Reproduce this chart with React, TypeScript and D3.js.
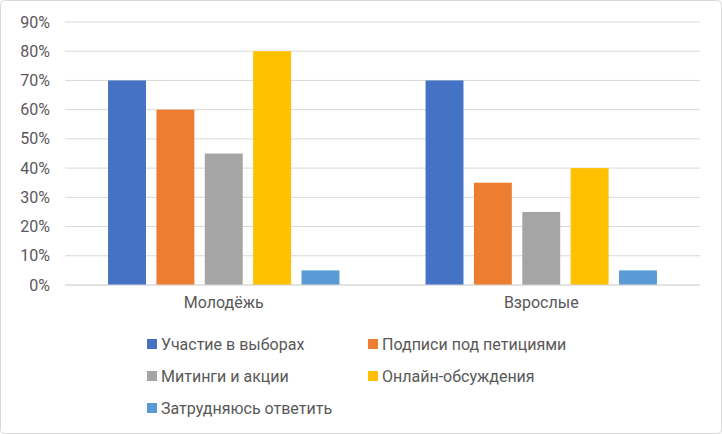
import React, { useEffect } from 'react';
import * as d3 from 'd3';

const groups = ['Молодёжь', 'Взрослые'];
const series = [
  'Участие в выборах',
  'Подписи под петициями',
  'Митинги и акции',
  'Онлайн-обсуждения',
  'Затрудняюсь ответить'
];
const colors = ['#4472C4', '#ED7D31', '#A5A5A5', '#FFC000', '#5B9BD5'];
const values = [
  [70, 60, 45, 80, 5],
  [70, 35, 25, 40, 5]
];
const ticks = [0, 10, 20, 30, 40, 50, 60, 70, 80, 90];

const W = 722;
const H = 434;
const font = 'Roboto, "Noto Sans", sans-serif';
const textColor = '#595959';

const App = () => {
  useEffect(() => {
    document.body.style.margin = '0';
  }, []);

  const y = d3.scaleLinear().domain([0, 90]).range([285, 22]);
  const x0 = d3.scaleBand<string>().domain(groups).range([65, 700]);
  const x1 = d3
    .scaleBand<string>()
    .domain(series)
    .range([0, x0.bandwidth()])
    .paddingInner(0.216)
    .paddingOuter(0.89);

  const legendCols = [147, 368];
  const legendRows = [344, 376, 408];

  return (
    <svg width={W} height={H} style={{ display: 'block' }} fontFamily={font}>
      <rect x={0.5} y={0.5} width={W - 1} height={H - 1} rx={4} fill="#fff" stroke="#D9D9D9" />
      {ticks.map((t) => (
        <g key={t}>
          <line x1={65} x2={700} y1={y(t)} y2={y(t)} stroke="#D9D9D9" />
          <text x={50} y={y(t)} dy="0.35em" textAnchor="end" fontSize={16} fill={textColor}>
            {t}%
          </text>
        </g>
      ))}
      {groups.map((g, gi) => (
        <g key={g} transform={`translate(${x0(g)},0)`}>
          {series.map((s, si) => (
            <rect
              key={s}
              x={x1(s)}
              y={y(values[gi][si])}
              width={x1.bandwidth()}
              height={y(0) - y(values[gi][si])}
              fill={colors[si]}
            />
          ))}
          <text x={x0.bandwidth() / 2} y={308} textAnchor="middle" fontSize={16} fill={textColor}>
            {g}
          </text>
        </g>
      ))}
      <line x1={65} x2={700} y1={y(0)} y2={y(0)} stroke="#D9D9D9" />
      {series.map((s, i) => (
        <g key={s} transform={`translate(${legendCols[i % 2]},${legendRows[Math.floor(i / 2)]})`}>
          <rect x={0} y={-5} width={10} height={10} fill={colors[i]} />
          <text x={14} y={0} dy="0.35em" fontSize={16} fill={textColor}>
            {s}
          </text>
        </g>
      ))}
    </svg>
  );
};

export default App;
